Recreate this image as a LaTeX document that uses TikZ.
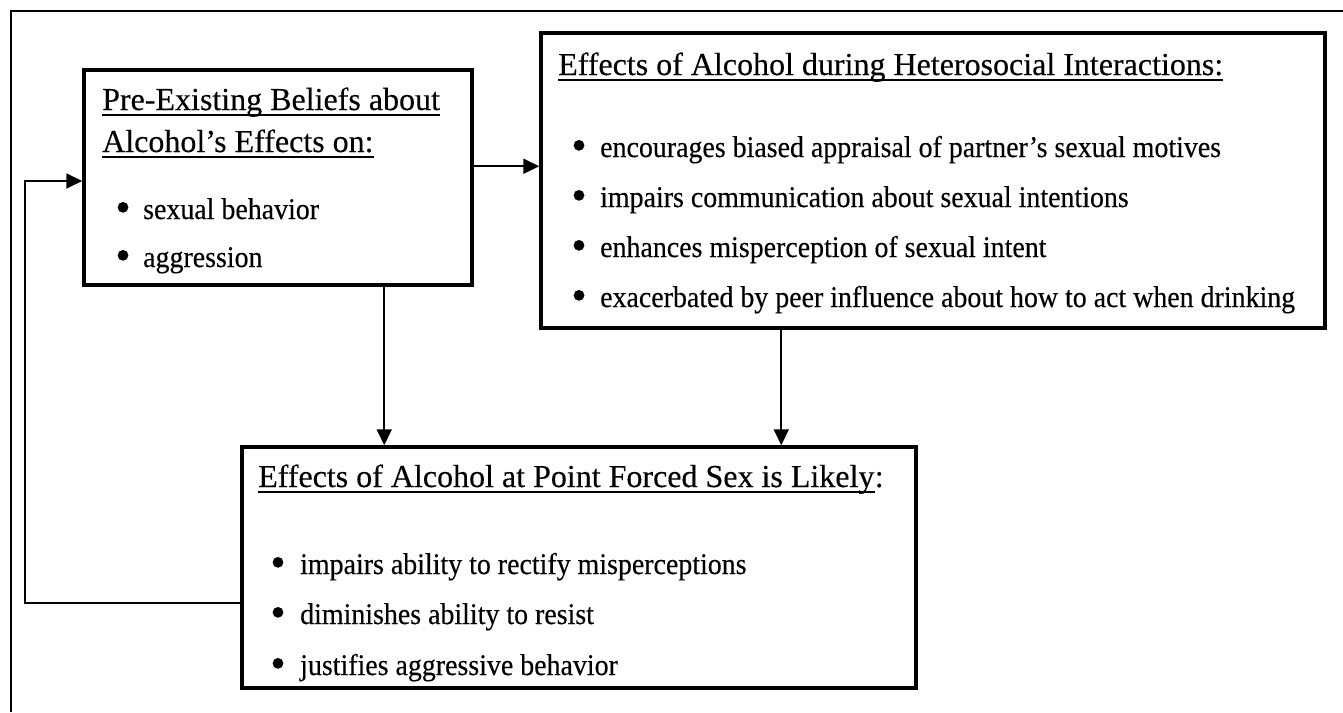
\documentclass[tikz,border=0pt]{standalone}
\usepackage{fontspec}
\setmainfont[FakeBold=0.3]{Liberation Serif}
\newfontfamily\itemfont[FakeStretch=0.93,FakeBold=0.3]{Liberation Serif}
\usetikzlibrary{arrows.meta}
\tikzset{
  boxnode/.style={draw, line width=3.5pt, inner sep=0pt},
  titletext/.style={anchor=base west, inner sep=0pt, font=\fontsize{32}{38}\selectfont},
  itemtext/.style={anchor=base west, inner sep=0pt, font=\itemfont\fontsize{30}{36}\selectfont},
  dotmark/.style={inner sep=0pt, font=\fontsize{44}{50}\selectfont},
  conn/.style={line width=1.8pt, -{Triangle[length=16pt,width=15pt]}},
  framelines/.style={line width=1.6pt},
  ulinestyle/.style={line width=1.8pt}
}
\newcommand{\ulnode}[1]{\draw[ulinestyle] ([yshift=-5pt]#1.base west) -- ([yshift=-5pt]#1.base east);}
\begin{document}
\begin{tikzpicture}[x=1pt,y=-1pt]
\useasboundingbox (0,0) rectangle (1343,712);
% outer frame
\draw[framelines] (11,712) -- (11,11) -- (1343,11);
% boxes
\node[boxnode, minimum width=388pt, minimum height=215pt] (box1) at (278,177.5) {};
\node[boxnode, minimum width=784pt, minimum height=295pt] (box2) at (933,180.5) {};
\node[boxnode, minimum width=674pt, minimum height=241pt] (box3) at (579,567.5) {};
% box 1 text
\node[titletext] (t1a) at (102,110) {Pre-Existing Beliefs about};
\node[titletext] (t1b) at (102,152) {Alcohol’s Effects on:};
\ulnode{t1a}
\ulnode{t1b}
\node[dotmark] (d1a) at (123,212) {•};
\node[itemtext] (i1a) at (143,219) {sexual behavior};
\node[dotmark] (d1b) at (123,260) {•};
\node[itemtext] (i1b) at (143,267) {aggression};
% box 2 text
\node[titletext] (t2) at (558,75) {Effects of Alcohol during Heterosocial Interactions:};
\ulnode{t2}
\node[dotmark] (d2a) at (579,150) {•};
\node[itemtext] (i2a) at (600,157) {encourages biased appraisal of partner’s sexual motives};
\node[dotmark] (d2b) at (579,200) {•};
\node[itemtext] (i2b) at (600,207) {impairs communication about sexual intentions};
\node[dotmark] (d2c) at (579,250) {•};
\node[itemtext] (i2c) at (600,257) {enhances misperception of sexual intent};
\node[dotmark] (d2d) at (579,300) {•};
\node[itemtext] (i2d) at (600,307) {exacerbated by peer influence about how to act when drinking};
% box 3 text
\node[titletext] (t3) at (258,487) {Effects of Alcohol at Point Forced Sex is Likely};
\node[titletext] (t3c) at (t3.base east) {:};
\ulnode{t3}
\node[dotmark] (d3a) at (278,567) {•};
\node[itemtext] (i3a) at (300,574) {impairs ability to rectify misperceptions};
\node[dotmark] (d3b) at (278,617) {•};
\node[itemtext] (i3b) at (300,624) {diminishes ability to resist};
\node[dotmark] (d3c) at (278,668) {•};
\node[itemtext] (i3c) at (300,675) {justifies aggressive behavior};
% connectors
\path (box1.north east) ++(0,98) coordinate (c12);
\draw[conn] (c12) -- (c12 -| box2.west);
\path (box1.south west) ++(302,0) coordinate (c13);
\draw[conn] (c13) -- (c13 |- box3.north);
\path (box2.south west) ++(242,0) coordinate (c23);
\draw[conn] (c23) -- (c23 |- box3.north);
\path (box3.west) ++(0,35.5) coordinate (fbA);
\path (box1.west) ++(0,3.5) coordinate (fbB);
\coordinate (fx) at (25,0);
\draw[conn] (fbA) -- (fbA -| fx) |- (fbB);
\end{tikzpicture}
\end{document}
